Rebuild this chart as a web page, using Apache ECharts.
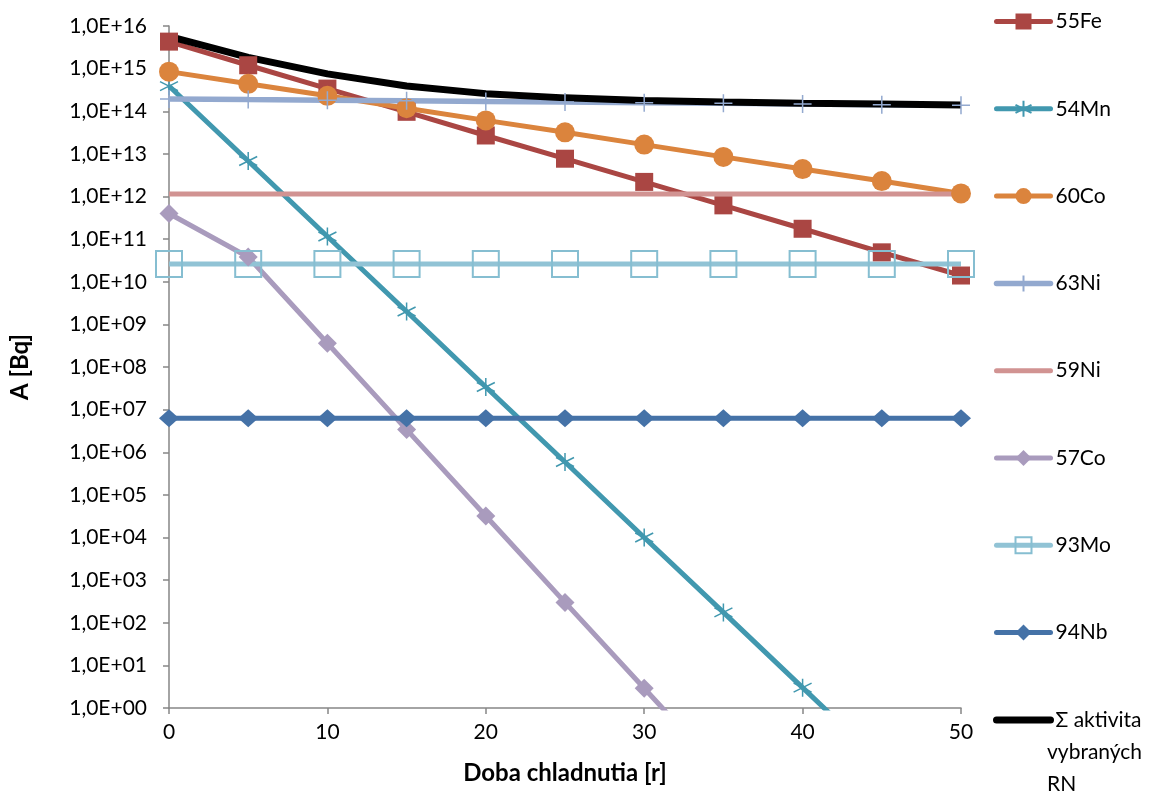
<!DOCTYPE html>
<html><head><meta charset="utf-8">
<script src="https://cdn.jsdelivr.net/npm/echarts@6/dist/echarts.min.js"></script>
<style>html,body{margin:0;padding:0;background:#fff}#c{width:1165px;height:794px}</style>
</head><body><div id="c"></div>
<script>
const years = [0, 5, 10, 15, 20, 25, 30, 35, 40, 45, 50];
const fe55 = [4.3e15, 1.2e15, 3.4e14, 9.7e13, 2.7e13, 7.7e12, 2.2e12, 6.2e11, 1.75e11, 4.9e10, 1.4e10];
const mn54 = [3.9e14, 6.8e12, 1.15e11, 2.0e9, 3.4e7, 5.9e5, 1.0e4, 1.75e2, 3.0, 0.052, 0.0009];
const co60 = [8.5e14, 4.4e14, 2.3e14, 1.18e14, 6.1e13, 3.2e13, 1.65e13, 8.5e12, 4.4e12, 2.3e12, 1.18e12];
const ni63 = [1.95e14, 1.88e14, 1.82e14, 1.76e14, 1.70e14, 1.65e14, 1.59e14, 1.54e14, 1.48e14, 1.43e14, 1.38e14];
const ni59 = [1.15e12, 1.15e12, 1.15e12, 1.15e12, 1.15e12, 1.15e12, 1.15e12, 1.15e12, 1.15e12, 1.15e12, 1.15e12];
const co57 = [4.0e11, 3.8e10, 3.6e8, 3.4e6, 3.2e4, 3.0e2, 2.9, 0.028, 0.00026, 0.0000025, 0.000000024];
const mo93 = [2.6e10, 2.6e10, 2.6e10, 2.6e10, 2.6e10, 2.6e10, 2.6e10, 2.6e10, 2.6e10, 2.6e10, 2.6e10];
const nb94 = [6.3e6, 6.3e6, 6.3e6, 6.3e6, 6.3e6, 6.3e6, 6.3e6, 6.3e6, 6.3e6, 6.3e6, 6.3e6];
const total = [5.74e15, 1.84e15, 7.53e14, 3.92e14, 2.59e14, 2.06e14, 1.79e14, 1.64e14, 1.54e14, 1.47e14, 1.40e14];
const xTicks = [0, 10, 20, 30, 40, 50];
const sumName = 'Σ aktivita vybraných RN';

const FONT = 'Lato';
const pair = arr => years.map((x, i) => [x, arr[i]]);
const asterisk = 'path://M0,-10 L0,10 M-8.66,-5 L8.66,5 M-8.66,5 L8.66,-5';
const plus = 'path://M0,-10 L0,10 M-10,0 L10,0';

function mk(name, data, color, lw, symbol, size, extraItem) {
  return {
    name, type: 'line', data: pair(data),
    symbol: symbol || 'none', symbolSize: size || 0, showSymbol: !!symbol,
    symbolKeepAspect: false,
    lineStyle: { color, width: lw },
    itemStyle: Object.assign({ color, borderColor: color, borderWidth: 0 }, extraItem || {}),
    emphasis: { disabled: true }, animation: false, clip: true
  };
}

const series = [
  mk('55Fe', fe55, '#AA4643', 5, 'rect', 18),
  mk('54Mn', mn54, '#4198AF', 5, asterisk, 18, { borderWidth: 1.5 }),
  mk('60Co', co60, '#DB843D', 5, 'circle', 20),
  mk('63Ni', ni63, '#93A9CF', 5.5, plus, 18, { borderWidth: 1.5 }),
  mk('59Ni', ni59, '#D19392', 5),
  mk('57Co', co57, '#A99BBD', 5, 'diamond', [19, 19]),
  mk('93Mo', mo93, '#91C3D5', 5, 'rect', 26, { color: 'transparent', borderColor: '#86BED1', borderWidth: 2 }),
  mk('94Nb', nb94, '#4572A7', 5, 'diamond', [20, 18]),
  mk(sumName, total, '#000000', 7)
];

const legendData = series.map(s => {
  const item = { name: s.name, lineStyle: { width: s.lineStyle.width, cap: 'round', color: s.lineStyle.color } };
  if (s.symbol === 'none') item.itemStyle = { color: 'transparent', borderWidth: 0, opacity: 0 };
  return item;
});

const chart = echarts.init(document.getElementById('c'), null, { renderer: 'canvas' });
chart.setOption({
  animation: false,
  backgroundColor: '#fff',
  textStyle: { fontFamily: FONT },
  grid: { left: 168, right: 204, top: 26, bottom: 86, containLabel: false },
  xAxis: {
    type: 'value', min: 0, max: 50, interval: 10,
    name: 'Doba chladnutia [r]', nameLocation: 'middle', nameGap: 53,
    nameTextStyle: { fontFamily: FONT, fontSize: 24, fontWeight: 'bold', color: '#000' },
    axisLine: { show: true, lineStyle: { color: '#868686', width: 1.5 } },
    axisTick: { show: true, inside: false, length: 6, lineStyle: { color: '#868686', width: 1.5 } },
    axisLabel: { fontFamily: FONT, fontSize: 21, color: '#000', margin: 14,
      formatter: v => xTicks.includes(v) ? String(v) : '' },
    splitLine: { show: false }
  },
  yAxis: {
    type: 'log', logBase: 10, min: 1, max: 1e16, interval: 1,
    name: 'A [Bq]', nameLocation: 'middle', nameGap: 137, nameRotate: 90,
    nameTextStyle: { fontFamily: FONT, fontSize: 24, fontWeight: 'bold', color: '#000' },
    axisLine: { show: true, lineStyle: { color: '#868686', width: 1.5 } },
    axisTick: { show: true, inside: false, length: 6, lineStyle: { color: '#868686', width: 1.5 } },
    axisLabel: { fontFamily: FONT, fontSize: 21, color: '#000', margin: 22,
      formatter: v => { const e = Math.round(Math.log10(v)); return '1,0E+' + (e < 10 ? '0' : '') + e; } },
    splitLine: { show: false }
  },
  legend: {
    orient: 'vertical', left: 988, top: 6,
    itemWidth: 54, itemHeight: 20, itemGap: 66.3,
    textStyle: { fontFamily: FONT, fontSize: 21, color: '#000', lineHeight: 20 },
    formatter: n => n === sumName ? 'Σ aktivita' : n,
    data: legendData,
    selectedMode: false
  },
  graphic: [{
    type: 'text', left: 1047, top: 736,
    style: { text: 'vybraných\nRN', font: '21px ' + FONT, fill: '#000', lineHeight: 32 }
  }],
  series
});
</script></body></html>
